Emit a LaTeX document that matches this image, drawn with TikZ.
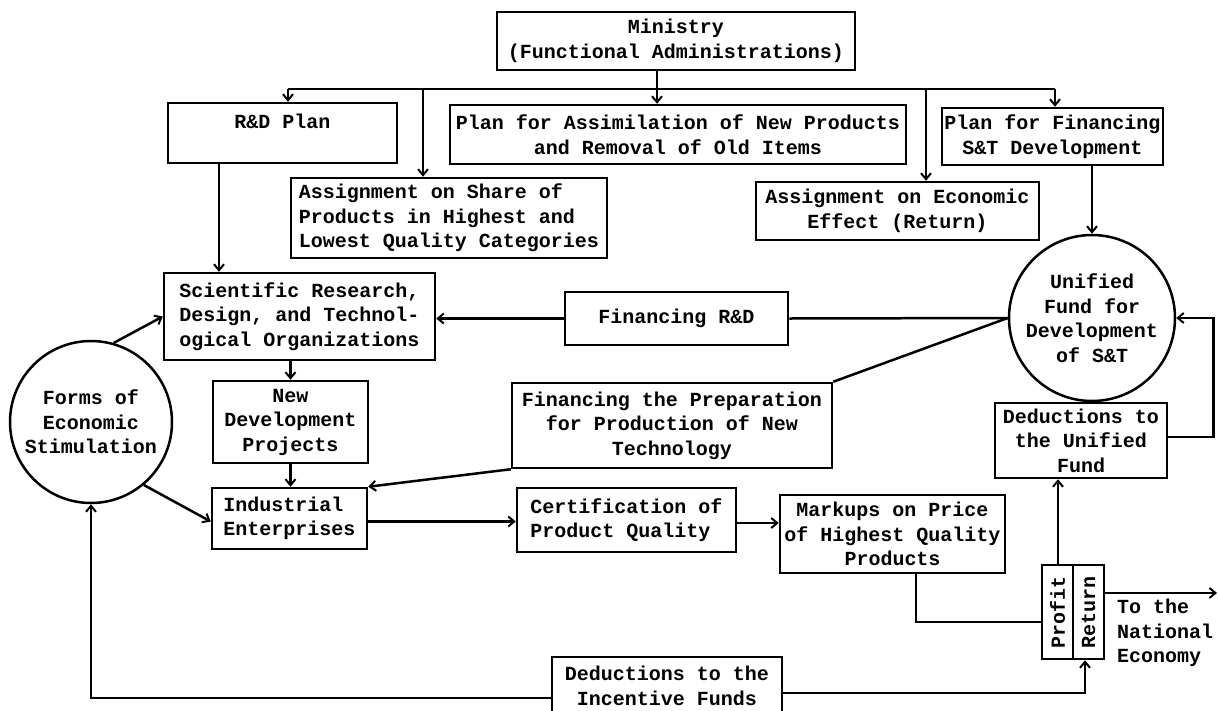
\documentclass[tikz,border=0pt]{standalone}
\usepackage{fontspec}
\setmonofont{Liberation Mono}
\usetikzlibrary{arrows.meta,calc}
\begin{document}
\begin{tikzpicture}[x=1pt,y=-1pt,
  tw/.style={font=\ttfamily\bfseries\fontsize{20}{24.5}\selectfont},
  bx/.style={draw, line width=2.5pt, inner sep=0pt, tw, align=center},
  lbx/.style={draw, line width=2.5pt, inner sep=0pt, tw, align=left},
  ln/.style={line width=2.5pt},
  ar/.style={ln, -{Straight Barb[length=6pt,width=10pt,line width=2pt]}},
  rnd/.style={circle, draw, line width=2.5pt, inner sep=0pt, tw, align=center}]
\fill[white] (0,0) rectangle (1219,710);
\useasboundingbox (0,0) rectangle (1219,710);
\clip (0,0) rectangle (1219,710);

% boxes
\node[bx, minimum width=358, minimum height=58] (ministry) at (676,41) {Ministry\\(Functional Administrations)};
\node[bx, minimum width=229, minimum height=60] (rdplan) at (282.5,133) {R\&D Plan\\~};
\node[bx, minimum width=456, minimum height=59] (assim) at (678,134.5) {Plan for Assimilation of New Products\\and Removal of Old Items};
\node[bx, minimum width=221, minimum height=57] (finplan) at (1052.5,136.5) {Plan for Financing\\S\&T Development};
\node[lbx, minimum width=316, minimum height=80] (share) at (449,218) {Assignment on Share of\\Products in Highest and\\Lowest Quality Categories};
\node[bx, minimum width=283, minimum height=58] (econ) at (897.5,211) {Assignment on Economic\\Effect (Return)};
\node[lbx, minimum width=271, minimum height=87] (sci) at (299.5,316.5) {Scientific Research,\\Design, and Technol-\\ogical Organizations};
\node[bx, minimum width=223, minimum height=53] (finrd) at (676.5,318.5) {Financing R\&D};
\node[bx, minimum width=155, minimum height=82] (newdev) at (290.5,422) {New\\Development\\Projects};
\node[bx, minimum width=320, minimum height=85] (prep) at (672,425.5) {Financing the Preparation\\for Production of New\\Technology};
\node[rnd, minimum size=162] (forms) at (91,422) {Forms of\\Economic\\Stimulation};
\node[rnd, minimum size=166] (unified) at (1092,318) {Unified\\Fund for\\Development\\of S\&T};
\node[bx, minimum width=172, minimum height=75] (deduf) at (1081,440.5) {Deductions to\\the Unified\\Fund};
\node[lbx, minimum width=155, minimum height=61] (indus) at (289.5,518.5) {Industrial\\Enterprises};
\node[lbx, minimum width=219, minimum height=64] (cert) at (626.5,520) {Certification of\\Product Quality};
\node[bx, minimum width=225, minimum height=78] (markup) at (892.5,534) {Markups on Price\\of Highest Quality\\Products};
\node[draw, line width=2.5pt, minimum width=62, minimum height=94, inner sep=0pt] (pr) at (1073,612) {};
\draw[ln] (pr.north) -- (pr.south);
\node[tw, rotate=90, inner sep=0pt] (ptxt) at (1057.5,612) {Profit};
\node[tw, rotate=90, inner sep=0pt] (rtxt) at (1088.5,612) {Return};
\node[bx, minimum width=230, minimum height=58] (dedinc) at (667,686) {Deductions to the\\Incentive Funds};
\node[tw, align=left, anchor=west, inner sep=0pt] (natl) at (1117,633) {To the\\National\\Economy};

% distribution bus from the ministry
\coordinate (b1) at (288,89);
\coordinate (b2) at (423,89);
\coordinate (b4) at (926,89);
\coordinate (b5) at (1055,89);
\draw[ln] (b1) -- (b5);
\draw[ar] ([xshift=-19pt]ministry.south) -- ([xshift=-19pt]ministry.south |- assim.north);
\draw[ar] (b1) -- (b1 |- rdplan.north);
\draw[ar] (b2) -- (b2 |- share.north);
\draw[ar] (b4) -- (b4 |- econ.north);
\draw[ar] (b5) -- (b5 |- finplan.north);

% connectors
\draw[ar] ([xshift=-63.5pt]rdplan.south) -- ([xshift=-63.5pt]rdplan.south |- sci.north);
\draw[ar] (unified.north |- finplan.south) -- (unified.north);
\draw[ln] (unified.west) -- (finrd.east);
\draw[ar] (finrd.west) -- (finrd.west -| sci.east);
\draw[ln] (unified.west) -- (prep.north east);
\draw[ar] (prep.south west) -- (indus.north east);
\draw[ar] (forms.74) -- (sci.west);
\draw[ar] (forms.-50) -- ([yshift=-3pt]indus.west);
\draw[ar] (newdev.north |- sci.south) -- (newdev.north);
\draw[ar] (newdev.south) -- (newdev.south |- indus.north);
\draw[ar] ([yshift=-3pt]indus.east) -- ([yshift=-3pt]indus.east -| cert.west);
\draw[ar] ([yshift=-3pt]cert.east) -- ([yshift=-3pt]cert.east -| markup.west);
\draw[ln] ([xshift=23.5pt]markup.south) |- ([yshift=-10pt]pr.west);
\draw[ar] ([xshift=-15pt]pr.north) -- ([xshift=-15pt]pr.north |- deduf.south);
\draw[ar] ([yshift=3.5pt]deduf.east) -- ++(45,0) |- (unified.east);
\coordinate (natend) at (1217,593);
\draw[ar] ([yshift=19pt]pr.east) -- (natend);
\draw[ar] ([yshift=-7pt]dedinc.east) -| ([xshift=12pt]pr.south);
\draw[ar] ([yshift=-12pt]dedinc.west) -| (forms.south);
\end{tikzpicture}
\end{document}
